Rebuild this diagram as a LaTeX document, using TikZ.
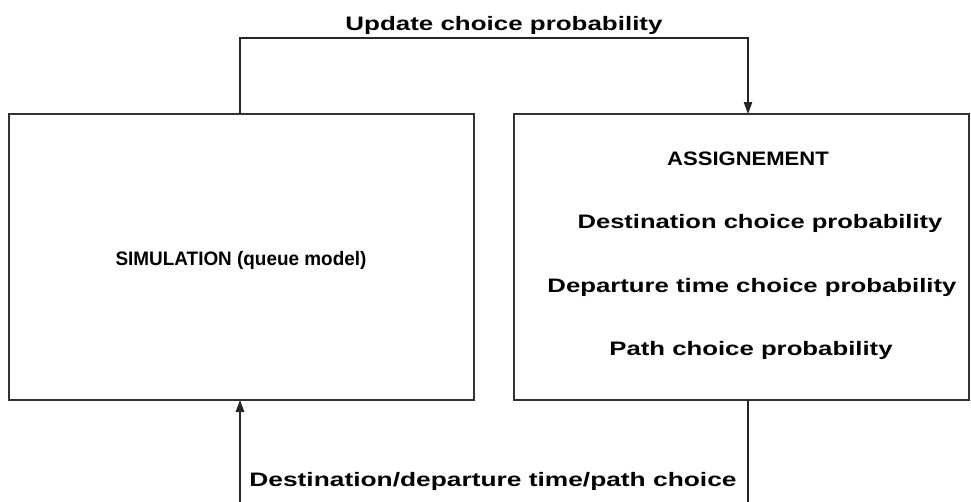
\documentclass[tikz,border=0pt]{standalone}
\usepackage{fontspec}
\setmainfont{Liberation Sans}
\usetikzlibrary{arrows.meta}
% horizontally widened label text
\newcommand\hstretch[2]{\scalebox{#1}[1]{#2}}
\begin{document}
\begin{tikzpicture}[x=1pt,y=-1pt,
  frame/.style={draw=black!80,line width=1.6pt},
  link/.style={draw=black!85,line width=1.2pt},
  tip/.style={-{Triangle[width=8.5pt,length=12pt]}},
  lbl/.style={font=\fontsize{19.5}{22}\selectfont\bfseries,inner sep=0pt}]
\useasboundingbox (0,0) rectangle (971,501);
% the two boxes
\path[frame] (9,114) rectangle (474,400);
\path[frame] (514,114) rectangle (969,400);
\coordinate (simtop) at (240,114);
\coordinate (simbot) at (240,400);
\coordinate (astop) at (748,114);
\coordinate (asbot) at (748,400);
\node[lbl] (sim) at (241,260) {\hstretch{0.97}{SIMULATION (queue model)}};
\node[lbl] (ass) at (748,159) {\hstretch{1.13}{ASSIGNEMENT}};
\node[lbl] (dest) at (760,223) {\hstretch{1.31}{Destination choice probability}};
\node[lbl] (dep) at (752,287) {\hstretch{1.32}{Departure time choice probability}};
\node[lbl] (path) at (751,350) {\hstretch{1.32}{Path choice probability}};
% feedback loop
\draw[link,tip] (simtop) |- (494,38) -| (astop);
\draw[link,tip] (asbot) |- (494,505) -| (simbot);
\node[lbl] (upd) at (504,25) {\hstretch{1.33}{Update choice probability}};
\node[lbl] (choice) at (493,481) {\hstretch{1.35}{Destination/departure time/path choice}};
\end{tikzpicture}
\end{document}
